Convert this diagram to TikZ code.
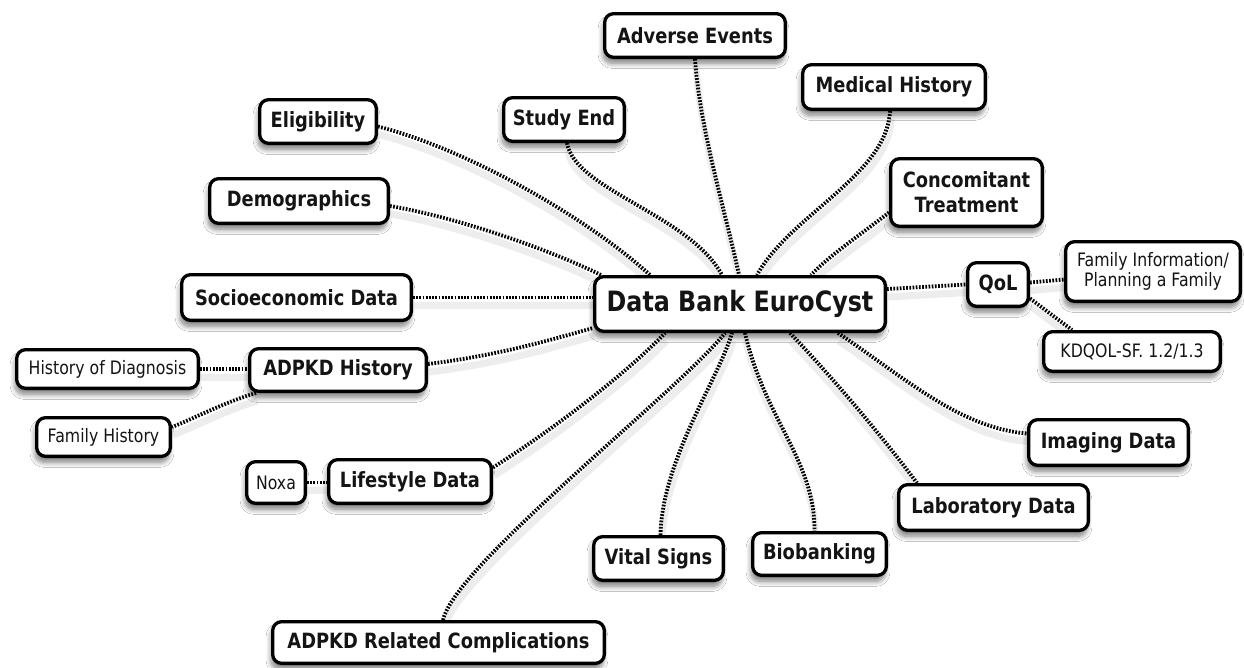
\documentclass[tikz,border=0pt]{standalone}
\usepackage{fontspec}
\setmainfont{DejaVu Sans}[FakeStretch=0.85]
\usetikzlibrary{shadows.blur,backgrounds}

\tikzset{
  sz/.style 2 args={minimum width={#1pt-3.3pt}, minimum height={#2pt-3.3pt}},
  box/.style={draw=black, line width=3.3pt, rounded corners=9pt, fill=white,
    align=center, inner sep=0pt, text=black!92,
    font=\bfseries\fontsize{21}{25}\selectfont,
    blur shadow={shadow xshift=-1.5pt, shadow yshift=-6pt, shadow blur steps=10,
      shadow blur radius=5pt, shadow opacity=50}},
  bigbox/.style={box, font=\bfseries\fontsize{28}{30}\selectfont},
  smallbox/.style={box, font=\fontsize{18.5}{20.5}\selectfont},
  conn/.style={line width=3.8pt, dash pattern=on 1.7pt off 1.5pt, draw=black,
    preaction={draw=black!7, line width=7pt, solid,
      transform canvas={xshift=1pt, yshift=-8pt}}},
}

\begin{document}
\begin{tikzpicture}[x=1pt, y=-1pt]
\useasboundingbox (0,0) rectangle (1244,667);

% nodes
\node[bigbox, sz={294}{58}] (center) at (740,304) {Data Bank EuroCyst};
\node[box, sz={184}{47}] (adverse) at (695,35.5) {Adverse Events};
\node[box, sz={186}{48}] (medhist) at (894,87) {Medical History};
\node[box, sz={124}{47}] (studyend) at (564,119.5) {Study End};
\node[box, sz={120}{47}] (elig) at (318,121.5) {Eligibility};
\node[box, sz={182}{48}] (demo) at (299,201) {Demographics};
\node[box, sz={155}{71}] (concom) at (966.5,192.5) {Concomitant\\Treatment};
\node[box, sz={233}{49}] (socio) at (296.5,297.5) {Socioeconomic Data};
\node[box, sz={64}{47}] (qol) at (998,284.5) {QoL};
\node[smallbox, sz={178}{63}] (faminfo) at (1153,271.5) {Family Information/\\Planning a Family};
\node[smallbox, sz={180}{43}] (kdqol) at (1132,351.5) {KDQOL-SF. 1.2/1.3};
\node[box, sz={180}{46}] (adpkdh) at (338,370) {ADPKD History};
\node[smallbox, sz={185}{42}] (histdiag) at (107.5,369) {History of Diagnosis};
\node[smallbox, sz={137}{42}] (famhist) at (103.5,437) {Family History};
\node[box, sz={163}{49}] (imaging) at (1108.5,442.5) {Imaging Data};
\node[box, sz={166}{47}] (lifestyle) at (410,481.5) {Lifestyle Data};
\node[smallbox, sz={62}{45}] (noxa) at (276,482.5) {Noxa};
\node[box, sz={193}{49}] (lab) at (993.5,507.5) {Laboratory Data};
\node[box, sz={133}{47}] (vital) at (658.5,558.5) {Vital Signs};
\node[box, sz={137}{46}] (bio) at (819.5,554) {Biobanking};
\node[box, sz={335}{45}] (adpkdrc) at (438.5,642.5) {ADPKD Related Complications};

\begin{scope}[on background layer]
\fill[white] (0,0) rectangle (1244,667);
% connectors to the centre
\draw[conn] ([yshift=-5pt]elig.east) .. controls (470,150) and (590,220) .. ([xshift=57pt]center.north west);
\draw[conn] ([yshift=-5pt]demo.east) .. controls (460,218) and (550,250) .. ([xshift=8pt]center.north west);
\draw[conn] (socio.east) -- (socio.east -| center.west);
\draw[conn] ([yshift=6pt]adpkdh.east) .. controls (500,355) and (550,340) .. ([yshift=5pt]center.south west);
\draw[conn] ([yshift=14pt]lifestyle.east) .. controls (560,425) and (630,370) .. ([xshift=72pt]center.south west);
\draw[conn] ([xshift=4.5pt]adpkdrc.north) .. controls (455,565) and (680,390) .. ([xshift=132pt]center.south west);
\draw[conn] ([xshift=2pt]vital.north) .. controls (662,460) and (718,380) .. ([xshift=139pt]center.south west);
\draw[conn] ([xshift=152pt]center.south west) .. controls (765,420) and (815,460) .. ([xshift=-5pt]bio.north);
\draw[conn] ([xshift=197pt]center.south west) .. controls (835,380) and (885,440) .. ([xshift=20pt]lab.north west);
\draw[conn] ([xshift=245pt]center.south west) .. controls (905,378) and (960,428) .. ([yshift=9pt]imaging.west);
\draw[conn] ([yshift=15pt]center.east) -- (qol.west);
\draw[conn] ([yshift=-20pt]concom.west) .. controls (860,235) and (830,255) .. ([xshift=-76pt]center.north east);
\draw[conn] ([xshift=-4pt]medhist.south) .. controls (887,175) and (790,215) .. ([xshift=-130pt]center.north east);
\draw[conn] (adverse.south) .. controls (700,130) and (725,210) .. ([xshift=-148pt]center.north east);
\draw[conn] ([xshift=3pt]studyend.south) .. controls (575,190) and (690,215) .. ([xshift=-165pt]center.north east);
% secondary connectors
\draw[conn] ([yshift=2pt]qol.east) -- ([yshift=-8pt]faminfo.west);
\draw[conn] ([yshift=-14pt]qol.east) -- ([xshift=30pt]kdqol.north west);
\draw[conn] (histdiag.east) -- (histdiag.east -| adpkdh.west);
\draw[conn] ([xshift=8pt]adpkdh.south west) .. controls (225,402) and (195,418) .. ([yshift=10pt]famhist.east);
\draw[conn] (noxa.east) -- (noxa.east -| lifestyle.west);
\end{scope}
\end{tikzpicture}
\end{document}
